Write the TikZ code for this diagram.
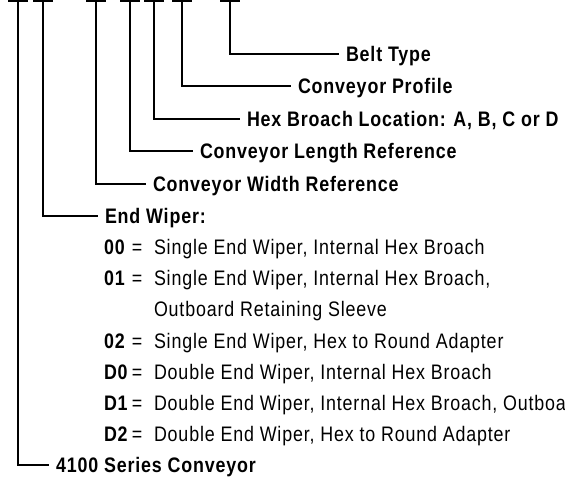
\documentclass[tikz,border=0pt]{standalone}
\usepackage{fontspec}
\setmainfont{Liberation Sans}[FakeStretch=0.85,LetterSpace=4]
\begin{document}
\begin{tikzpicture}[x=1pt,y=-1pt,line width=2pt,
  lab/.style={font=\fontsize{21}{25}\selectfont\bfseries, inner xsep=6pt, inner ysep=0pt, text height=15pt, text depth=0pt, anchor=west},
  txt/.style={font=\fontsize{21}{25}\selectfont, inner sep=0pt, anchor=base west},
  code/.style={font=\fontsize{21}{25}\selectfont\bfseries, inner sep=0pt, anchor=base west},
  eq/.style={font=\fontsize{21}{25}\selectfont, inner sep=0pt, anchor=base},
  capline/.style={line cap=butt}]
\useasboundingbox (0,0) rectangle (565,485);
\clip (0,0) rectangle (565,485);
% tops of the verticals
\coordinate (v1) at (18,1);
\coordinate (v2) at (43,1);
\coordinate (v3) at (96,1);
\coordinate (v4) at (130,1);
\coordinate (v5) at (154,1);
\coordinate (v6) at (182,1);
\coordinate (v7) at (230,1);
% labels
\node[lab] (bt) at (339,54) {Belt Type};
\node[lab] (cp) at (291,86.4) {Conveyor Profile};
\node[lab] (hb) at (240,118.8) {Hex Broach Location: A, B, C or D};
\node[lab] (cl) at (193,151.2) {Conveyor Length Reference};
\node[lab] (cw) at (146,183.6) {Conveyor Width Reference};
\node[lab] (ew) at (98,216) {End Wiper:};
\node[lab] (sc) at (49,465) {4100 Series Conveyor};
% end wiper list
\foreach \k/\c/\d in {1/00/{Single End Wiper, Internal Hex Broach},
                      2/01/{Single End Wiper, Internal Hex Broach,},
                      4/02/{Single End Wiper, Hex to Round Adapter},
                      5/D0/{Double End Wiper, Internal Hex Broach},
                      6/D1/{Double End Wiper, Internal Hex Broach, Outboard},
                      7/D2/{Double End Wiper, Hex to Round Adapter}}{
  \node[code] (c\k) at (103,{223.5+31.125*\k}) {\c};
  \node[eq] (e\k) at (137,{223.5+31.125*\k}) {=};
  \node[txt] (d\k) at (153,{223.5+31.125*\k}) {\d};
}
\node[txt] (d3) at (153,{223.5+31.125*3}) {Outboard Retaining Sleeve};
% connectors
\foreach \v/\n in {v1/sc,v2/ew,v3/cw,v4/cl,v5/hb,v6/cp,v7/bt}{
  \draw (\v) |- (\n.west);
  \draw[capline] ([xshift=-10pt]\v) -- ([xshift=10pt]\v);
}
\end{tikzpicture}
\end{document}
